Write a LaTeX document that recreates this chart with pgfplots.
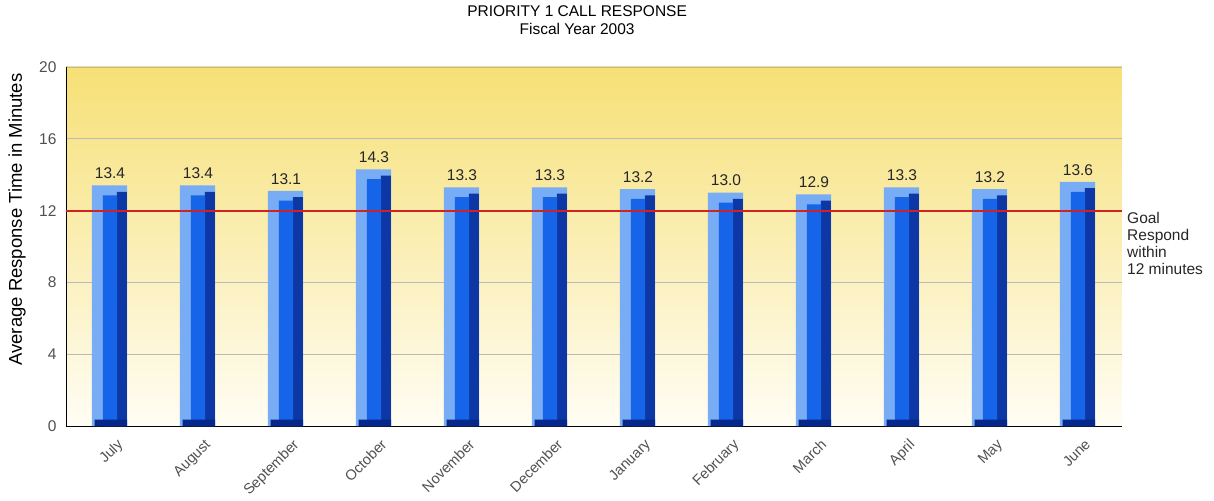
\documentclass[border=0pt]{standalone}
\usepackage{fontspec}
\setmainfont{Liberation Sans}
\usepackage{pgfplots}
\pgfplotsset{compat=1.18}
\definecolor{bgtop}{RGB}{246,224,118}
\definecolor{bgbot}{RGB}{255,253,244}
\definecolor{barlight}{RGB}{120,172,245}
\definecolor{barmid}{RGB}{22,100,232}
\definecolor{bardark}{RGB}{12,55,165}
\definecolor{barnavy}{RGB}{6,40,140}
\definecolor{goalred}{RGB}{205,35,35}
\definecolor{ticktxt}{RGB}{80,80,80}
\begin{document}
\begin{tikzpicture}
\useasboundingbox (-66bp,-75bp) rectangle (1148bp,426bp);
\begin{axis}[
  scale only axis, width=1056bp, height=359bp,
  xmin=-0.5, xmax=11.5, ymin=0, ymax=20,
  axis x line*=bottom, axis y line*=left,
  axis line style={-, black, line width=0.8bp},
  axis background/.style={shade, top color=bgtop, bottom color=bgbot},
  ymajorgrids, major grid style={gray!55, line width=0.6bp},
  ytick={0,4,8,12,16,20},
  xtick={0,...,11},
  xticklabels={July,August,September,October,November,December,January,February,March,April,May,June},
  major tick length=0pt,
  /pgf/number format/assume math mode=true,
  tick label style={font=\fontsize{15.5bp}{18bp}\selectfont, text=ticktxt},
  yticklabel style={xshift=-6bp},
  xticklabel style={font=\fontsize{14.5bp}{17bp}\selectfont, inner sep=0pt, xshift=6bp, yshift=-12bp, rotate=45, anchor=north east},
  ylabel={Average Response Time in Minutes},
  ylabel style={at={(axis description cs:-0.0464,0.575)}, anchor=center, font=\fontsize{18.5bp}{21bp}\selectfont},
  title={PRIORITY 1 CALL RESPONSE\\Fiscal Year 2003},
  title style={at={(axis description cs:0.484,1)}, anchor=south, yshift=26bp, inner sep=0pt, align=center, font=\fontsize{15.5bp}{18bp}\selectfont},
  clip=false,
]
% light front/top face with value labels
\addplot[ybar, bar width=0.40, bar shift=-0.005, fill=barlight, draw=none,
  nodes near coords,
  nodes near coords style={anchor=south, yshift=3bp, font=\fontsize{15.5bp}{18bp}\selectfont, text=black!85,
    /pgf/number format/.cd, fixed, fixed zerofill, precision=1, assume math mode=true}]
  coordinates {(0,13.4) (1,13.4) (2,13.1) (3,14.3) (4,13.3) (5,13.3) (6,13.2) (7,13.0) (8,12.9) (9,13.3) (10,13.2) (11,13.6)};
% dark right side
\addplot[ybar, bar width=0.114, bar shift=0.136, fill=bardark, draw=none]
  coordinates {(0,13.05) (1,13.05) (2,12.75) (3,13.95) (4,12.95) (5,12.95) (6,12.85) (7,12.65) (8,12.55) (9,12.95) (10,12.85) (11,13.25)};
% medium front face
\addplot[ybar, bar width=0.16, bar shift=0.0, fill=barmid, draw=none]
  coordinates {(0,12.85) (1,12.85) (2,12.55) (3,13.75) (4,12.75) (5,12.75) (6,12.65) (7,12.45) (8,12.35) (9,12.75) (10,12.65) (11,13.05)};
% dark bottom face
\addplot[ybar, bar width=0.37, bar shift=0.01, fill=barnavy, draw=none]
  coordinates {(0,0.35) (1,0.35) (2,0.35) (3,0.35) (4,0.35) (5,0.35) (6,0.35) (7,0.35) (8,0.35) (9,0.35) (10,0.35) (11,0.35)};
% goal line
\addplot[goalred, line width=2bp] coordinates {(-0.5,12) (11.5,12)};
\node[anchor=north west, align=left, inner sep=0pt, xshift=5bp, yshift=-1bp,
  font=\fontsize{15.5bp}{17bp}\selectfont, text=black!85] at (axis cs:11.5,12)
  {Goal\\Respond\\within\\12 minutes};
\end{axis}
\end{tikzpicture}
\end{document}
